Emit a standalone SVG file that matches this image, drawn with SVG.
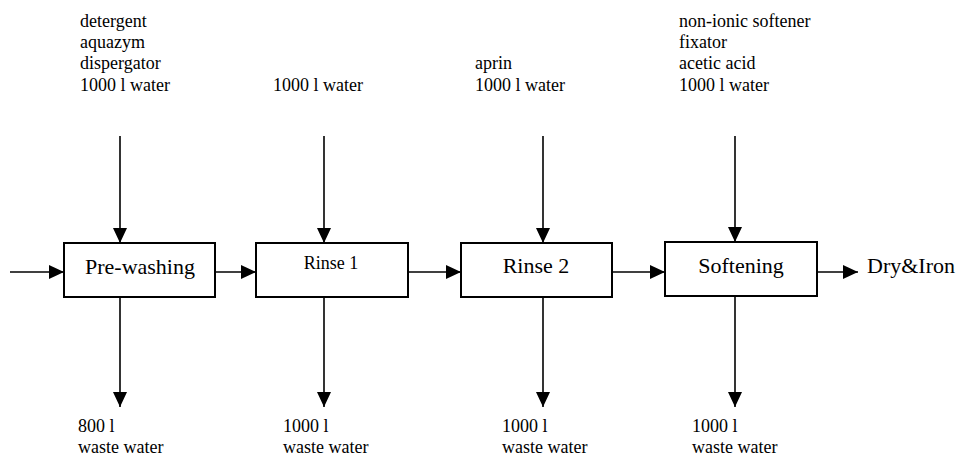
<svg xmlns="http://www.w3.org/2000/svg" width="960" height="456" viewBox="0 0 960 456">
<defs>
<marker id="ah" markerWidth="15" markerHeight="14" refX="15" refY="7" orient="auto" markerUnits="userSpaceOnUse">
<path d="M0,0 L15,7 L0,14 Z" fill="#000"/>
</marker>
<style>
.box{fill:#fff;stroke:#000;stroke-width:2}
.ln{stroke:#000;stroke-width:1.6;fill:none;marker-end:url(#ah)}
.t{font-family:"Liberation Serif","Times New Roman",serif;font-size:18px;fill:#000}
.b{font-family:"Liberation Serif","Times New Roman",serif;font-size:22px;fill:#000}
</style>
</defs>
<rect width="960" height="456" fill="#fff"/>
<g id="connectors">
<line class="ln" x1="10" y1="272" x2="64" y2="272"/>
<line class="ln" x1="215" y1="272" x2="256" y2="272"/>
<line class="ln" x1="408" y1="272" x2="461" y2="272"/>
<line class="ln" x1="612" y1="272" x2="665" y2="272"/>
<line class="ln" x1="817" y1="272" x2="858" y2="272"/>
<line class="ln" x1="120" y1="136" x2="120" y2="243"/>
<line class="ln" x1="324" y1="136" x2="324" y2="243"/>
<line class="ln" x1="543" y1="136" x2="543" y2="243"/>
<line class="ln" x1="735" y1="136" x2="735" y2="242"/>
<line class="ln" x1="120" y1="297" x2="120" y2="407"/>
<line class="ln" x1="324" y1="297" x2="324" y2="407"/>
<line class="ln" x1="543" y1="297" x2="543" y2="407"/>
<line class="ln" x1="735" y1="296" x2="735" y2="407"/>
</g>
<g id="prewashing">
<rect class="box" x="64" y="243" width="151" height="54"/>
<text class="b" x="140" y="274" text-anchor="middle">Pre-washing</text>
</g>
<g id="rinse1">
<rect class="box" x="256" y="243" width="152" height="54"/>
<text class="t" x="331" y="269" text-anchor="middle">Rinse 1</text>
</g>
<g id="rinse2">
<rect class="box" x="461" y="243" width="151" height="54"/>
<text class="b" x="536" y="273" text-anchor="middle">Rinse 2</text>
</g>
<g id="softening">
<rect class="box" x="665" y="242" width="152" height="54"/>
<text class="b" x="741" y="273" text-anchor="middle">Softening</text>
</g>
<g id="dryiron">
<text class="b" x="867" y="273">Dry&amp;Iron</text>
</g>
<g id="input-prewashing">
<text class="t" x="80" y="27">detergent</text>
<text class="t" x="80" y="48">aquazym</text>
<text class="t" x="80" y="69">dispergator</text>
<text class="t" x="80" y="91">1000 l water</text>
</g>
<g id="input-rinse1">
<text class="t" x="273" y="91">1000 l water</text>
</g>
<g id="input-rinse2">
<text class="t" x="475" y="69">aprin</text>
<text class="t" x="475" y="91">1000 l water</text>
</g>
<g id="input-softening">
<text class="t" x="679" y="27">non-ionic softener</text>
<text class="t" x="679" y="48">fixator</text>
<text class="t" x="679" y="69">acetic acid</text>
<text class="t" x="679" y="91">1000 l water</text>
</g>
<g id="out-prewashing">
<text class="t" x="78" y="432">800 l</text>
<text class="t" x="78" y="453">waste water</text>
</g>
<g id="out-rinse1">
<text class="t" x="283" y="432">1000 l</text>
<text class="t" x="283" y="453">waste water</text>
</g>
<g id="out-rinse2">
<text class="t" x="502" y="432">1000 l</text>
<text class="t" x="502" y="453">waste water</text>
</g>
<g id="out-softening">
<text class="t" x="692" y="432">1000 l</text>
<text class="t" x="692" y="453">waste water</text>
</g>
</svg>
